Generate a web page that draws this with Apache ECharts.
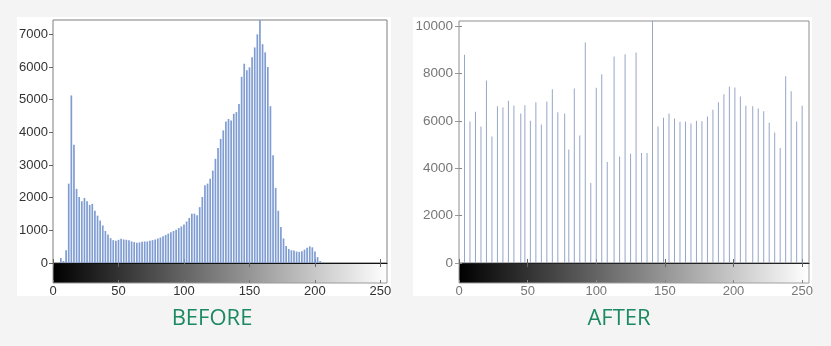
<!DOCTYPE html>
<html>
<head>
<meta charset="utf-8">
<script src="https://cdn.jsdelivr.net/npm/echarts@6/dist/echarts.min.js"></script>
<style>
html,body{margin:0;padding:0;background:#f4f4f4;}
#c{width:831px;height:346px;}
</style>
</head>
<body>
<div id="c"></div>
<script>
// ---- data ----
const beforeLevels = [0,2,4,6,8,10,12,14,16,18,20,22,24,26,28,30,32,34,36,38,40,42,44,46,48,50,52,54,56,58,60,62,64,66,68,70,72,74,76,78,80,82,84,86,88,90,92,94,96,98,100,102,104,106,108,110,112,114,116,118,120,122,124,126,128,130,132,134,136,138,140,142,144,146,148,150,152,154,156,158,160,162,164,166,168,170,172,174,176,178,180,182,184,186,188,190,192,194,196,198,200,202,204,206,208,210,212,214,216,218,220,222,224,226,228,230,232,234,236,238,240,242,244,246,248,250,252,254];
const beforeCounts = [0,0,0,150,60,390,2430,5130,3620,2270,2020,1890,1990,1890,1780,1810,1600,1450,1300,1150,980,870,760,700,680,710,740,720,710,700,660,640,620,630,650,660,660,680,700,720,750,780,820,860,900,940,980,1020,1070,1120,1180,1270,1380,1510,1510,1460,1710,2020,2380,2430,2580,2830,3190,3520,3800,4060,4330,4410,4360,4570,4620,4870,5700,6100,5900,5990,6300,6600,7000,7440,6700,6450,6000,4800,3300,2300,1600,1100,750,520,430,390,380,350,340,360,410,470,510,480,350,180,60,0,0,0,0,0,0,0,0,0,0,0,0,0,0,0,0,0,0,0,0,0,0,0,0,0,0];
const afterLevels = [4,8,12,16,20,24,28,32,36,40,45,48,52,56,60,64,68,72,77,80,84,88,92,96,100,104,108,113,117,121,125,129,133,137,141,145,149,153,157,161,165,169,173,177,181,185,189,193,197,201,205,209,214,218,222,226,230,234,238,242,246,250];
const afterCounts = [8790,5977,6385,5766,7707,5345,6624,6568,6850,6652,6315,6667,6006,6793,5851,6821,7342,6371,6315,4796,7370,5387,9311,3375,7398,7975,4262,8720,4501,8819,4613,8889,4641,4641,10220,5766,6132,6315,6104,5963,5977,5893,6006,5991,6188,6470,6793,7131,7454,7412,7032,6638,6624,6526,6413,5921,5513,4852,7890,7257,5977,6638];
const xTicks = [0,50,100,150,200,250];
const beforeYTicks = [0,1000,2000,3000,4000,5000,6000,7000];
const afterYTicks = [0,2000,4000,6000,8000,10000];
const beforeYMax = 7440, afterYMax = 10220;
const titles = ['BEFORE','AFTER'];

// ---- chart ----
const chart = echarts.init(document.getElementById('c'));
const grad = new echarts.graphic.LinearGradient(0,0,1,0,[{offset:0,color:'#000000'},{offset:1,color:'#ffffff'}]);
const lblFont = 'Liberation Sans, Arial, sans-serif';
const plain = v => String(v);

function xAx(grid, pos, opts){
  return Object.assign({
    type:'value', gridIndex:grid, position:pos, min:0, max:255, interval:50,
    axisLine:{show:false}, splitLine:{show:false},
    axisTick:{show:true, inside:true, length:4, customValues:xTicks, lineStyle:{color:'#666'}},
    axisLabel:{show:false}
  }, opts||{});
}
function yAx(grid, pos, max, ticks, opts){
  return Object.assign({
    type:'value', gridIndex:grid, position:pos, min:0, max:max,
    axisLine:{show:false}, splitLine:{show:false},
    axisTick:{show:true, inside:true, length:4, customValues:ticks, lineStyle:{color:'#666'}},
    axisLabel:{show:false}
  }, opts||{});
}

const option = {
  animation:false,
  backgroundColor:'#f4f4f4',
  grid:[
    {left:53, top:20, width:334, height:243, show:true, backgroundColor:'#ffffff', borderColor:'#7f7f7f', borderWidth:1},
    {left:53, top:263, width:334, height:20, show:true, backgroundColor:grad, borderColor:'#9a9a9a', borderWidth:1},
    {left:459, top:21, width:350, height:242, show:true, backgroundColor:'#ffffff', borderColor:'#8f8f8f', borderWidth:1},
    {left:459, top:263, width:350, height:20, show:true, backgroundColor:grad, borderColor:'#a0a0a0', borderWidth:1}
  ],
  xAxis:[
    xAx(0,'bottom',{axisLine:{show:true,onZero:false,lineStyle:{color:'#111',width:1.2}}}),
    xAx(0,'top'),
    xAx(1,'bottom',{axisTick:{show:true,inside:true,length:3,customValues:xTicks,lineStyle:{color:'#777'}},
      axisLabel:{show:true, margin:2, fontSize:13, color:'#333', fontFamily:lblFont, customValues:xTicks, formatter:plain}}),
    xAx(2,'bottom',{axisLine:{show:true,onZero:false,lineStyle:{color:'#222',width:1.2}}}),
    xAx(2,'top'),
    xAx(3,'bottom',{axisTick:{show:true,inside:true,length:3,customValues:xTicks,lineStyle:{color:'#888'}},
      axisLabel:{show:true, margin:2, fontSize:13, color:'#777', fontFamily:lblFont, customValues:xTicks, formatter:plain}})
  ],
  yAxis:[
    yAx(0,'left',beforeYMax,beforeYTicks,{axisTick:{show:true,inside:false,length:4,customValues:beforeYTicks,lineStyle:{color:'#666'}},
      axisLabel:{show:true, margin:5, fontSize:13, color:'#333', fontFamily:lblFont, customValues:beforeYTicks, formatter:plain}}),
    yAx(0,'right',beforeYMax,beforeYTicks),
    {type:'value', gridIndex:1, min:0, max:1, show:false},
    yAx(2,'left',afterYMax,afterYTicks,{axisTick:{show:true,inside:true,length:3,customValues:afterYTicks,lineStyle:{color:'#888'}},
      axisLabel:{show:true, margin:6, fontSize:13.5, color:'#777', fontFamily:lblFont, customValues:afterYTicks, formatter:plain}}),
    yAx(2,'right',afterYMax,afterYTicks,{axisTick:{show:true,inside:true,length:4,customValues:afterYTicks,lineStyle:{color:'#999'}}}),
    {type:'value', gridIndex:3, min:0, max:1, show:false}
  ],
  series:[
    {type:'bar', xAxisIndex:0, yAxisIndex:0, barWidth:1.7,
      itemStyle:{color:'#7f9dd2'},
      data:beforeLevels.map((l,i)=>[l,beforeCounts[i]])},
    {type:'bar', xAxisIndex:3, yAxisIndex:3, barWidth:1,
      itemStyle:{color:'#96a6c6'},
      data:afterLevels.map((l,i)=>[l,afterCounts[i]])}
  ],
  graphic:[
    {type:'rect', z:-10, shape:{x:17,y:17,width:374,height:279}, style:{fill:'#ffffff'}},
    {type:'rect', z:-10, shape:{x:413,y:17,width:399,height:279}, style:{fill:'#ffffff'}},
    {type:'text', x:212, y:319, style:{text:titles[0], textAlign:'center', textVerticalAlign:'middle',
      font:'22px "Open Sans", sans-serif', fill:'#1b8a62'}},
    {type:'text', x:619, y:319, style:{text:titles[1], textAlign:'center', textVerticalAlign:'middle',
      font:'22px "Open Sans", sans-serif', fill:'#1b8a62'}}
  ]
};
chart.setOption(option);
</script>
</body>
</html>
